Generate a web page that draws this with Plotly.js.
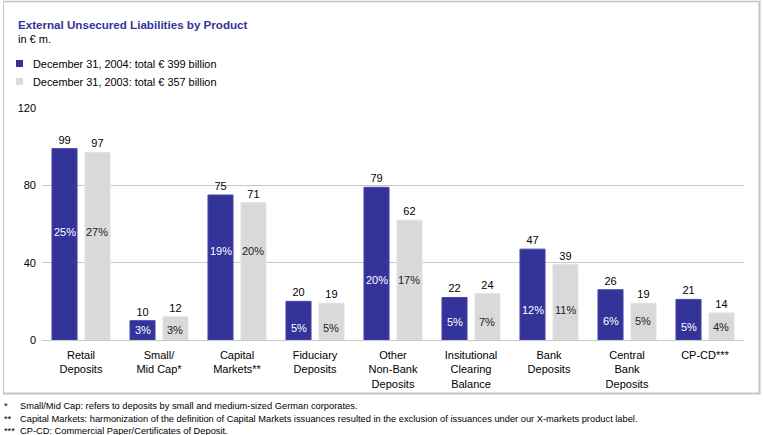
<!DOCTYPE html>
<html>
<head>
<meta charset="utf-8">
<script src="https://cdn.plot.ly/plotly-3.0.1.min.js"></script>
<style>
html,body{margin:0;padding:0;background:#fff;}
#chart{width:763px;height:435px;}
</style>
</head>
<body>
<div id="chart"></div>
<script>
// ---- data ----
const categories = [
  "Retail<br>Deposits",
  "Small/<br>Mid Cap*",
  "Capital<br>Markets**",
  "Fiduciary<br>Deposits",
  "Other<br>Non-Bank<br>Deposits",
  "Insitutional<br>Clearing<br>Balance",
  "Bank<br>Deposits",
  "Central<br>Bank<br>Deposits",
  "CP-CD***"
];
const values2004 = [99, 10, 75, 20, 79, 22, 47, 26, 21];
const values2003 = [97, 12, 71, 19, 62, 24, 39, 19, 14];
const share2004 = ["25%", "3%", "19%", "5%", "20%", "5%", "12%", "6%", "5%"];
const share2003 = ["27%", "3%", "20%", "5%", "17%", "7%", "11%", "5%", "4%"];
const seriesNames = ["December 31, 2004: total € 399 billion", "December 31, 2003: total € 357 billion"];
const yTicks = [0, 40, 80, 120];
const footnotes = [
  ["*", "Small/Mid Cap: refers to deposits by small and medium-sized German corporates."],
  ["**", "Capital Markets: harmonization of the definition of Capital Markets issuances resulted in the exclusion of issuances under our X-markets product label."],
  ["***", "CP-CD: Commercial Paper/Certificates of Deposit."]
];

// ---- layout / styling ----
const W = 763, H = 435;
const M = {l: 42, r: 19, t: 108, b: 95};
const PW = W - M.l - M.r, PH = H - M.t - M.b;
const px = x => (x - M.l) / PW;
const py = y => (H - M.b - y) / PH;
const FONT = "Liberation Sans, Arial, Helvetica, sans-serif";
const DARK = "#333399", LIGHT = "#d9d9d9";
// heights (in axis units) where share labels sit inside the bars
const shareLabelHeights = [56, 5.2, 46, 6.2, 31, 9.3, 15.5, 9.8, 6.7];

const BARGAP = 0.154, GROUPGAP = 0.24;
const slot = PW / categories.length * (1 - BARGAP) / 2;

const traces = [
  {type: "bar", x: categories, y: values2004, name: seriesNames[0],
   marker: {color: DARK, line: {color: "#4848a6", width: 1}},
   text: values2004.map(String), textposition: "outside", cliponaxis: false,
   textfont: {family: FONT, size: 11, color: "#000"}, hoverinfo: "none"},
  {type: "bar", x: categories, y: values2003, name: seriesNames[1],
   marker: {color: LIGHT, line: {color: "#e2e2e2", width: 1}},
   text: values2003.map(String), textposition: "outside", cliponaxis: false,
   textfont: {family: FONT, size: 11, color: "#000"}, hoverinfo: "none"}
];

const annotations = [];
categories.forEach((c, i) => {
  annotations.push({x: c, y: shareLabelHeights[i], xref: "x", yref: "y", xshift: -slot / 2,
    text: share2004[i], showarrow: false, font: {family: FONT, size: 11, color: "#fff"}});
  annotations.push({x: c, y: shareLabelHeights[i], xref: "x", yref: "y", xshift: slot / 2,
    text: share2003[i], showarrow: false, font: {family: FONT, size: 11, color: "#222"}});
});
// title block
annotations.push({x: px(16), y: py(24), xref: "paper", yref: "paper", xanchor: "left", yanchor: "middle",
  text: "<b>External Unsecured Liabilities by Product</b>", showarrow: false,
  font: {family: FONT, size: 11.6, color: DARK}});
annotations.push({x: px(16), y: py(39), xref: "paper", yref: "paper", xanchor: "left", yanchor: "middle",
  text: "in € m.", showarrow: false, font: {family: FONT, size: 11, color: "#000"}});
// legend
const shapes = [];
[[64, DARK], [82, LIGHT]].forEach(([yy, col], k) => {
  shapes.push({type: "rect", xref: "paper", yref: "paper", x0: px(16), x1: px(23), y0: py(yy - 4), y1: py(yy + 3),
    fillcolor: col, line: {width: 0}});
  annotations.push({x: px(31), y: py(yy), xref: "paper", yref: "paper", xanchor: "left", yanchor: "middle",
    text: seriesNames[k], showarrow: false, font: {family: FONT, size: 10.9, color: "#000"}});
});
// footnotes
footnotes.forEach(([mark, txt], k) => {
  const yy = 406 + k * 12.5;
  annotations.push({x: px(2), y: py(yy), xref: "paper", yref: "paper", xanchor: "left", yanchor: "middle",
    text: mark, showarrow: false, font: {family: FONT, size: 9.3, color: "#000"}});
  annotations.push({x: px(18), y: py(yy), xref: "paper", yref: "paper", xanchor: "left", yanchor: "middle",
    text: txt, showarrow: false, font: {family: FONT, size: 9.3, color: "#000"}});
});
// frame
shapes.push({type: "line", xref: "paper", yref: "paper", x0: px(3.5), x1: px(3.5), y0: py(1.5), y1: py(393.5), line: {color: "#c4c4c4", width: 1}, layer: "below"});
shapes.push({type: "line", xref: "paper", yref: "paper", x0: px(3), x1: px(760.5), y0: py(1.5), y1: py(1.5), line: {color: "#c4c4c4", width: 1.5}, layer: "below"});
shapes.push({type: "line", xref: "paper", yref: "paper", x0: px(759.5), x1: px(759.5), y0: py(1), y1: py(394), line: {color: "#c4c4c4", width: 2}, layer: "below"});
shapes.push({type: "line", xref: "paper", yref: "paper", x0: px(3), x1: px(760.5), y0: py(393.5), y1: py(393.5), line: {color: "#c4c4c4", width: 2}, layer: "below"});

const layout = {
  width: W, height: H,
  margin: M,
  paper_bgcolor: "#fff", plot_bgcolor: "#fff",
  showlegend: false,
  barmode: "group", bargap: BARGAP, bargroupgap: GROUPGAP,
  font: {family: FONT, size: 11, color: "#000"},
  xaxis: {type: "category", showgrid: false, showline: false, zeroline: false, ticks: "",
    tickfont: {family: FONT, size: 11, color: "#000"}, ticklabelstandoff: 7, fixedrange: true},
  yaxis: {range: [0, 120], tickvals: yTicks, ticktext: yTicks.map(String), showgrid: true,
    gridcolor: "#c8c8c8", gridwidth: 1, zeroline: true, zerolinecolor: "#c8c8c8", zerolinewidth: 1,
    showline: false, ticks: "", tickfont: {family: FONT, size: 11, color: "#000"}, ticklabelstandoff: 5,
    fixedrange: true},
  annotations: annotations,
  shapes: shapes
};

Plotly.newPlot("chart", traces, layout, {displayModeBar: false, staticPlot: true});
</script>
</body>
</html>
